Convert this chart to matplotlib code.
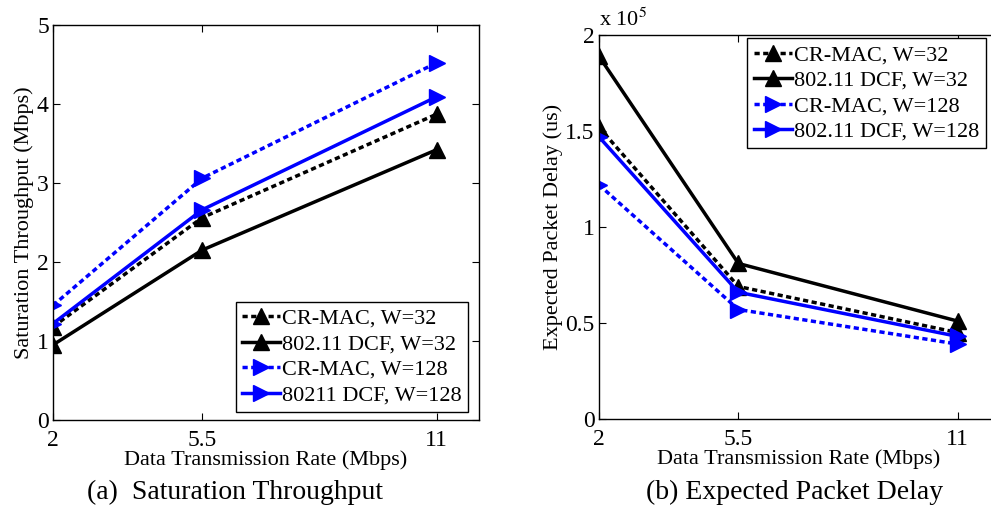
import matplotlib
matplotlib.use('Agg')
import matplotlib.pyplot as plt
from matplotlib.ticker import FuncFormatter

plt.rcParams['font.family'] = ['Liberation Serif', 'DejaVu Serif']
plt.rcParams['mathtext.fontset'] = 'stix'

rates = [2, 5.5, 11]

# (a) saturation throughput, Mbps
thr_crmac_32 = [1.18, 2.56, 3.87]
thr_dcf_32 = [0.95, 2.15, 3.42]
thr_crmac_128 = [1.45, 3.06, 4.52]
thr_dcf_128 = [1.22, 2.66, 4.09]

# (b) expected packet delay, us
dly_crmac_32 = [152000, 69000, 45000]
dly_dcf_32 = [189000, 81000, 51000]
dly_crmac_128 = [122000, 57000, 39000]
dly_dcf_128 = [147000, 66000, 43000]

fig = plt.figure(figsize=(9.91, 5.09), dpi=100)
ax1 = fig.add_axes([0.0535, 0.175, 0.43, 0.776])
ax2 = fig.add_axes([0.6044, 0.177, 0.402, 0.754])

dash = (0, (1.5, 1))
lw = 2.5
ms = 11

def styled(ax):
    ax.tick_params(direction='in', top=True, right=True, labelsize=17, length=5)
    ax.tick_params(axis='x', pad=7)
    ax.tick_params(axis='y', pad=3)
    for s in ax.spines.values():
        s.set_linewidth(1.0)
    ax.set_xlim(2, 12)
    ax.set_xticks(rates)
    ax.set_xticklabels(['2', '5.5', '11'])
    ax.set_xlabel('Data Transmission Rate (Mbps)', fontsize=16, labelpad=0)

ax1.plot(rates, thr_crmac_32, color='black', ls=dash, lw=lw, marker='^', ms=ms, label='CR-MAC, W=32')
ax1.plot(rates, thr_dcf_32, color='black', ls='-', lw=lw, marker='^', ms=ms, label='802.11 DCF, W=32')
ax1.plot(rates, thr_crmac_128, color='blue', ls=dash, lw=lw, marker='>', ms=ms, label='CR-MAC, W=128')
ax1.plot(rates, thr_dcf_128, color='blue', ls='-', lw=lw, marker='>', ms=ms, label='80211 DCF, W=128')
styled(ax1)
ax1.set_ylim(0, 5)
ax1.set_yticks([0, 1, 2, 3, 4, 5])
ax1.set_ylabel('Saturation Throughput (Mbps)', fontsize=16, labelpad=2)
leg1 = ax1.legend(loc='lower right', bbox_to_anchor=(0.975, 0.02), borderaxespad=0,
                  fontsize=16, fancybox=False, edgecolor='black', framealpha=1,
                  handlelength=1.7, handletextpad=0.1, labelspacing=0.22, borderpad=0.3)
leg1.get_frame().set_linewidth(1.0)

ax2.plot(rates, dly_crmac_32, color='black', ls=dash, lw=lw, marker='^', ms=ms, label='CR-MAC, W=32')
ax2.plot(rates, dly_dcf_32, color='black', ls='-', lw=lw, marker='^', ms=ms, label='802.11 DCF, W=32')
ax2.plot(rates, dly_crmac_128, color='blue', ls=dash, lw=lw, marker='>', ms=ms, label='CR-MAC, W=128')
ax2.plot(rates, dly_dcf_128, color='blue', ls='-', lw=lw, marker='>', ms=ms, label='802.11 DCF, W=128')
styled(ax2)
ax2.tick_params(right=False)
ax2.set_ylim(0, 200000)
ax2.set_yticks([0, 50000, 100000, 150000, 200000])
ax2.yaxis.set_major_formatter(FuncFormatter(lambda v, p: '%g' % (v / 1e5)))
ax2.text(0.0, 1.012, r'x 10$^{5}$', transform=ax2.transAxes, fontsize=16, ha='left', va='bottom')
ax2.set_ylabel('Expected Packet Delay (us)', fontsize=16, labelpad=2)
leg2 = ax2.legend(loc='upper left', bbox_to_anchor=(0.372, 0.992), borderaxespad=0,
                  fontsize=16, fancybox=False, edgecolor='black', framealpha=1,
                  handlelength=1.7, handletextpad=0.1, labelspacing=0.22, borderpad=0.3)
leg2.get_frame().set_linewidth(1.0)

fig.text(235 / 991, 1 - 492 / 509, '(a)  Saturation Throughput', fontsize=20, ha='center', va='center')
fig.text(795 / 991, 1 - 492 / 509, '(b) Expected Packet Delay', fontsize=20, ha='center', va='center')

fig.savefig('out.png', dpi=100)
